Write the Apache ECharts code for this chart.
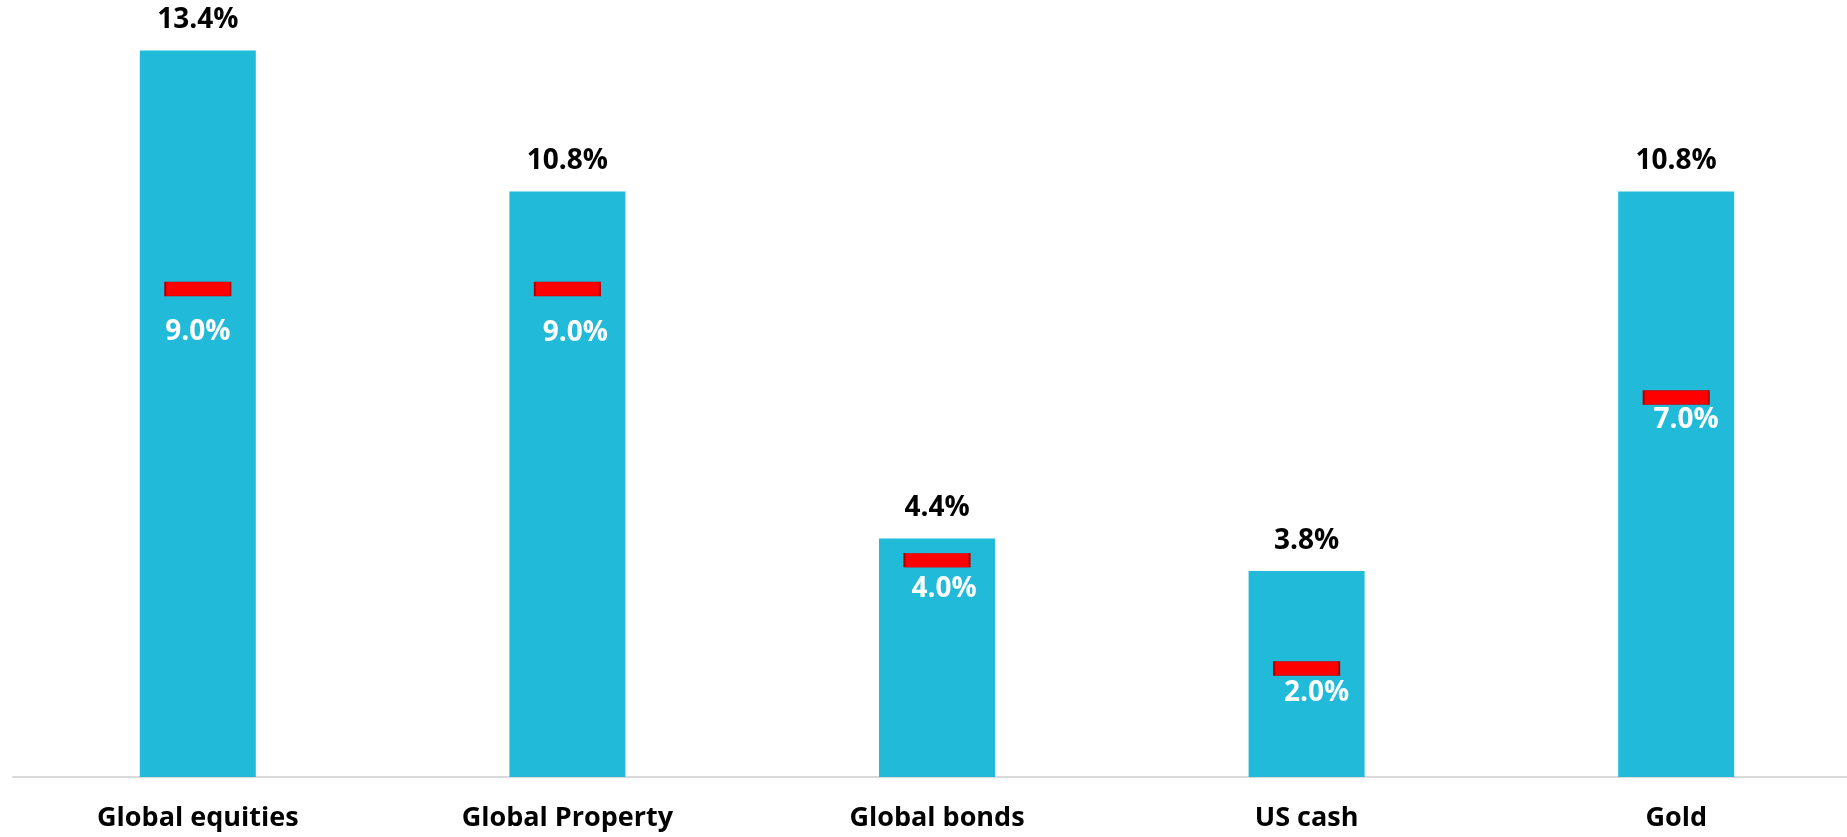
<!DOCTYPE html>
<html>
<head>
<meta charset="utf-8">
<script src="https://cdn.jsdelivr.net/npm/echarts@6/dist/echarts.min.js"></script>
<style>
  html, body { margin: 0; padding: 0; background: #fff; }
  #chart { width: 1847px; height: 837px; }
</style>
</head>
<body>
<div id="chart"></div>
<script>
// categories and values
var categories = ['Global equities', 'Global Property', 'Global bonds', 'US cash', 'Gold'];
var actualReturns = [13.4, 10.8, 4.4, 3.8, 10.8];
var targetReturns = [9.0, 9.0, 4.0, 2.0, 7.0];

// label nudges for the red markers (layout only)
var targetLabelNudge = [[0, 43], [8, 44], [7, 29], [10, 24], [10, 23]];

var chart = echarts.init(document.getElementById('chart'));

var font = '"Open Sans", "Noto Sans", sans-serif';

var option = {
    animation: false,
    grid: {
        left: 13,
        top: 18,
        right: -14,
        bottom: 60,
        outerBoundsMode: 'none'
    },
    xAxis: {
        type: 'category',
        data: categories,
        axisTick: { show: false },
        axisLine: { lineStyle: { color: '#d9d9d9', width: 2 } },
        axisLabel: {
            color: '#000',
            fontFamily: font,
            fontWeight: 'bold',
            fontSize: 27,
            margin: 28
        }
    },
    yAxis: {
        type: 'value',
        min: 0,
        max: 14,
        show: false,
        splitLine: { show: false }
    },
    series: [
        {
            name: 'Actual',
            type: 'bar',
            barWidth: 116,
            data: actualReturns,
            itemStyle: { color: '#21BAD9' },
            label: {
                show: true,
                position: 'top',
                distance: 16,
                color: '#000',
                fontFamily: font,
                fontWeight: 'bold',
                fontSize: 28,
                formatter: function (p) { return p.value.toFixed(1) + '%'; }
            }
        },
        {
            name: 'Target',
            type: 'scatter',
            symbol: 'rect',
            symbolSize: [65, 14],
            z: 5,
            itemStyle: { color: '#ff0000', borderColor: '#b00000', borderWidth: 1, opacity: 1 },
            data: targetReturns.map(function (v, i) {
                return {
                    value: v,
                    label: { offset: targetLabelNudge[i] }
                };
            }),
            label: {
                show: true,
                position: 'inside',
                color: '#ffffff',
                opacity: 1,
                fontFamily: font,
                fontWeight: 'bold',
                fontSize: 28,
                formatter: function (p) { return p.value.toFixed(1) + '%'; }
            }
        }
    ]
};

chart.setOption(option);
</script>
</body>
</html>
